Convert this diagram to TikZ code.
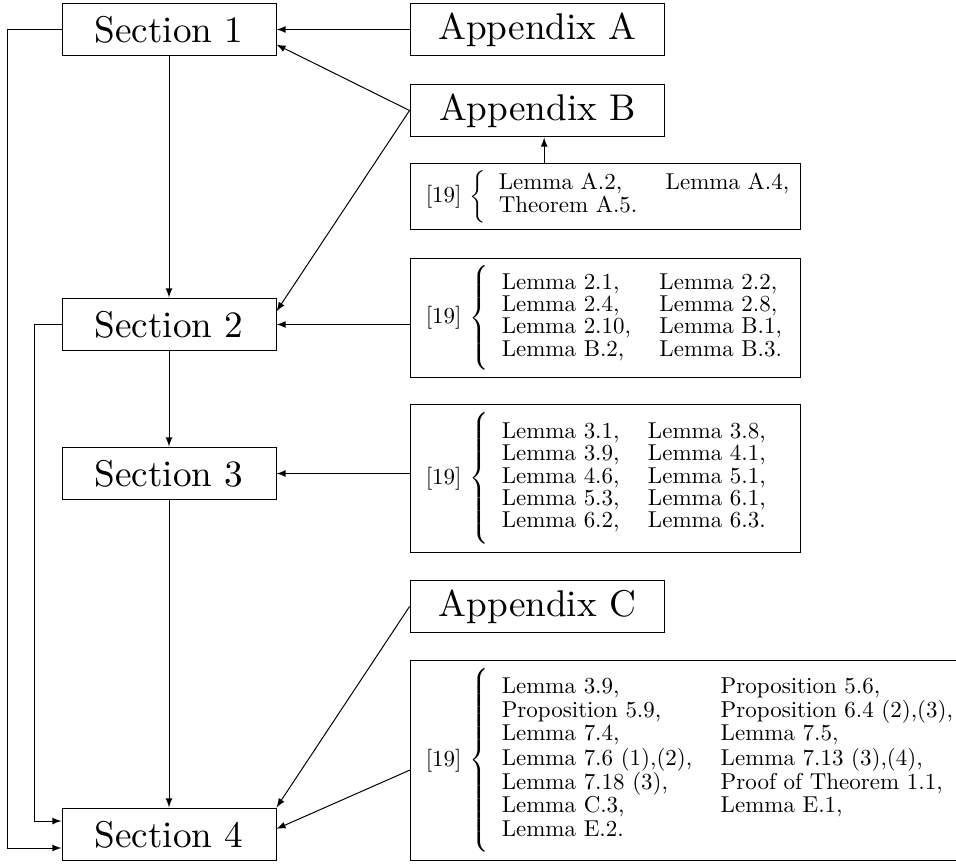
\documentclass[tikz,border=0pt]{standalone}
\usetikzlibrary{calc}

% [19] { rows } : #1 = row stretch, #2 = brace height, #3 = rows
\newcommand{\refcases}[3][0.8]{[19]\ $\left\{\vcenter{\hbox{\rule{0pt}{#2}}}\renewcommand{\arraystretch}{#1}\begin{tabular}{l@{\hspace{13pt}}l}#3\end{tabular}\right.$}
\newcommand{\bigtext}[1]{\scalebox{1.7}{#1}}
\newcommand{\fixwidth}[1]{\makebox[164.2pt][l]{#1}}

\tikzset{every picture/.style={line width=0.45pt}}
\tikzset{
  secbox/.style={draw, minimum width=97.8pt, minimum height=24.2pt, inner sep=0pt},
  appbox/.style={draw, minimum width=116.5pt, minimum height=24.2pt, inner sep=0pt},
  refbox/.style={draw, anchor=west, inner xsep=7pt, inner ysep=0pt, font=\fontsize{10.5}{12.6}\selectfont},
}

\begin{document}
\begin{tikzpicture}[x=0.457pt,y=0.457pt,yscale=-1,xscale=1,>=latex]
\useasboundingbox (0,0) rectangle (956,865);

% Sections
\node[secbox] (sec1) at (169,29.5) {\bigtext{Section 1}};
\node[secbox] (sec2) at (169,324.5) {\bigtext{Section 2}};
\node[secbox] (sec3) at (169,473.5) {\bigtext{Section 3}};
\node[secbox] (sec4) at (169,834.5) {\bigtext{Section 4}};

% Appendices
\node[appbox] (appA) at (537.5,29.5) {\bigtext{Appendix A}};
\node[appbox] (appB) at (537.5,110.5) {\bigtext{Appendix B}};
\node[appbox] (appC) at (537.5,606.5) {\bigtext{Appendix C}};

% Text Node
\node[refbox, minimum height=30.6pt] (lemA) at (410,196.5)
  {\fixwidth{\refcases{23pt}{Lemma A.2, & Lemma A.4,\\ Theorem A.5.}}};
% Text Node
\node[refbox, minimum height=54.8pt] (lem2) at (410,318)
  {\fixwidth{\refcases{49pt}{Lemma 2.1, & Lemma 2.2,\\ Lemma 2.4, & Lemma 2.8,\\ Lemma 2.10, & Lemma B.1,\\ Lemma B.2, & Lemma B.3.}}};
% Text Node
\node[refbox, minimum height=67.2pt] (lem3) at (410,478.5)
  {\fixwidth{\refcases{61pt}{Lemma 3.1, & Lemma 3.8,\\ Lemma 3.9, & Lemma 4.1,\\ Lemma 4.6, & Lemma 5.1,\\ Lemma 5.3, & Lemma 6.1,\\ Lemma 6.2, & Lemma 6.3.}}};
% Text Node
\node[refbox, minimum height=91.4pt] (lemC) at (410,760)
  {\refcases[0.85]{84pt}{Lemma 3.9, & Proposition 5.6,\\ Proposition 5.9, & Proposition 6.4 (2),(3),\\ Lemma 7.4, & Lemma 7.5,\\ Lemma 7.6 (1),(2), & Lemma 7.13 (3),(4),\\ Lemma 7.18 (3), & Proof of Theorem 1.1,\\ Lemma C.3, & Lemma E.1,\\ Lemma E.2.}};

%Straight Lines
\draw[->] (appA) -- (sec1);
\draw[->] (appB.west) -- (sec1.-8);
\draw[->] (appB.west) -- (sec2.7);
\draw[->] (lemA.151) -- (lemA.151 |- appB.south);
\draw[->] (lem2.west |- sec2) -- (sec2);
\draw[->] (lem3.west |- sec3) -- (sec3);
\draw[->] (appC.west) -- (sec4.north east);
\draw[->] (lemC.182) -- (sec4.3);

\draw[->] (sec1) -- (sec2);
\draw[->] (sec2) -- (sec3);
\draw[->] (sec3) -- (sec4);

%Left loops
\draw[->] (sec1.west) -- ++(-54,0) |- ($(sec4.west)!0.5!(sec4.south west)$);
\draw[->] (sec2.west) -- ++(-27,0) |- ($(sec4.west)!0.5!(sec4.north west)$);

\end{tikzpicture}
\end{document}
